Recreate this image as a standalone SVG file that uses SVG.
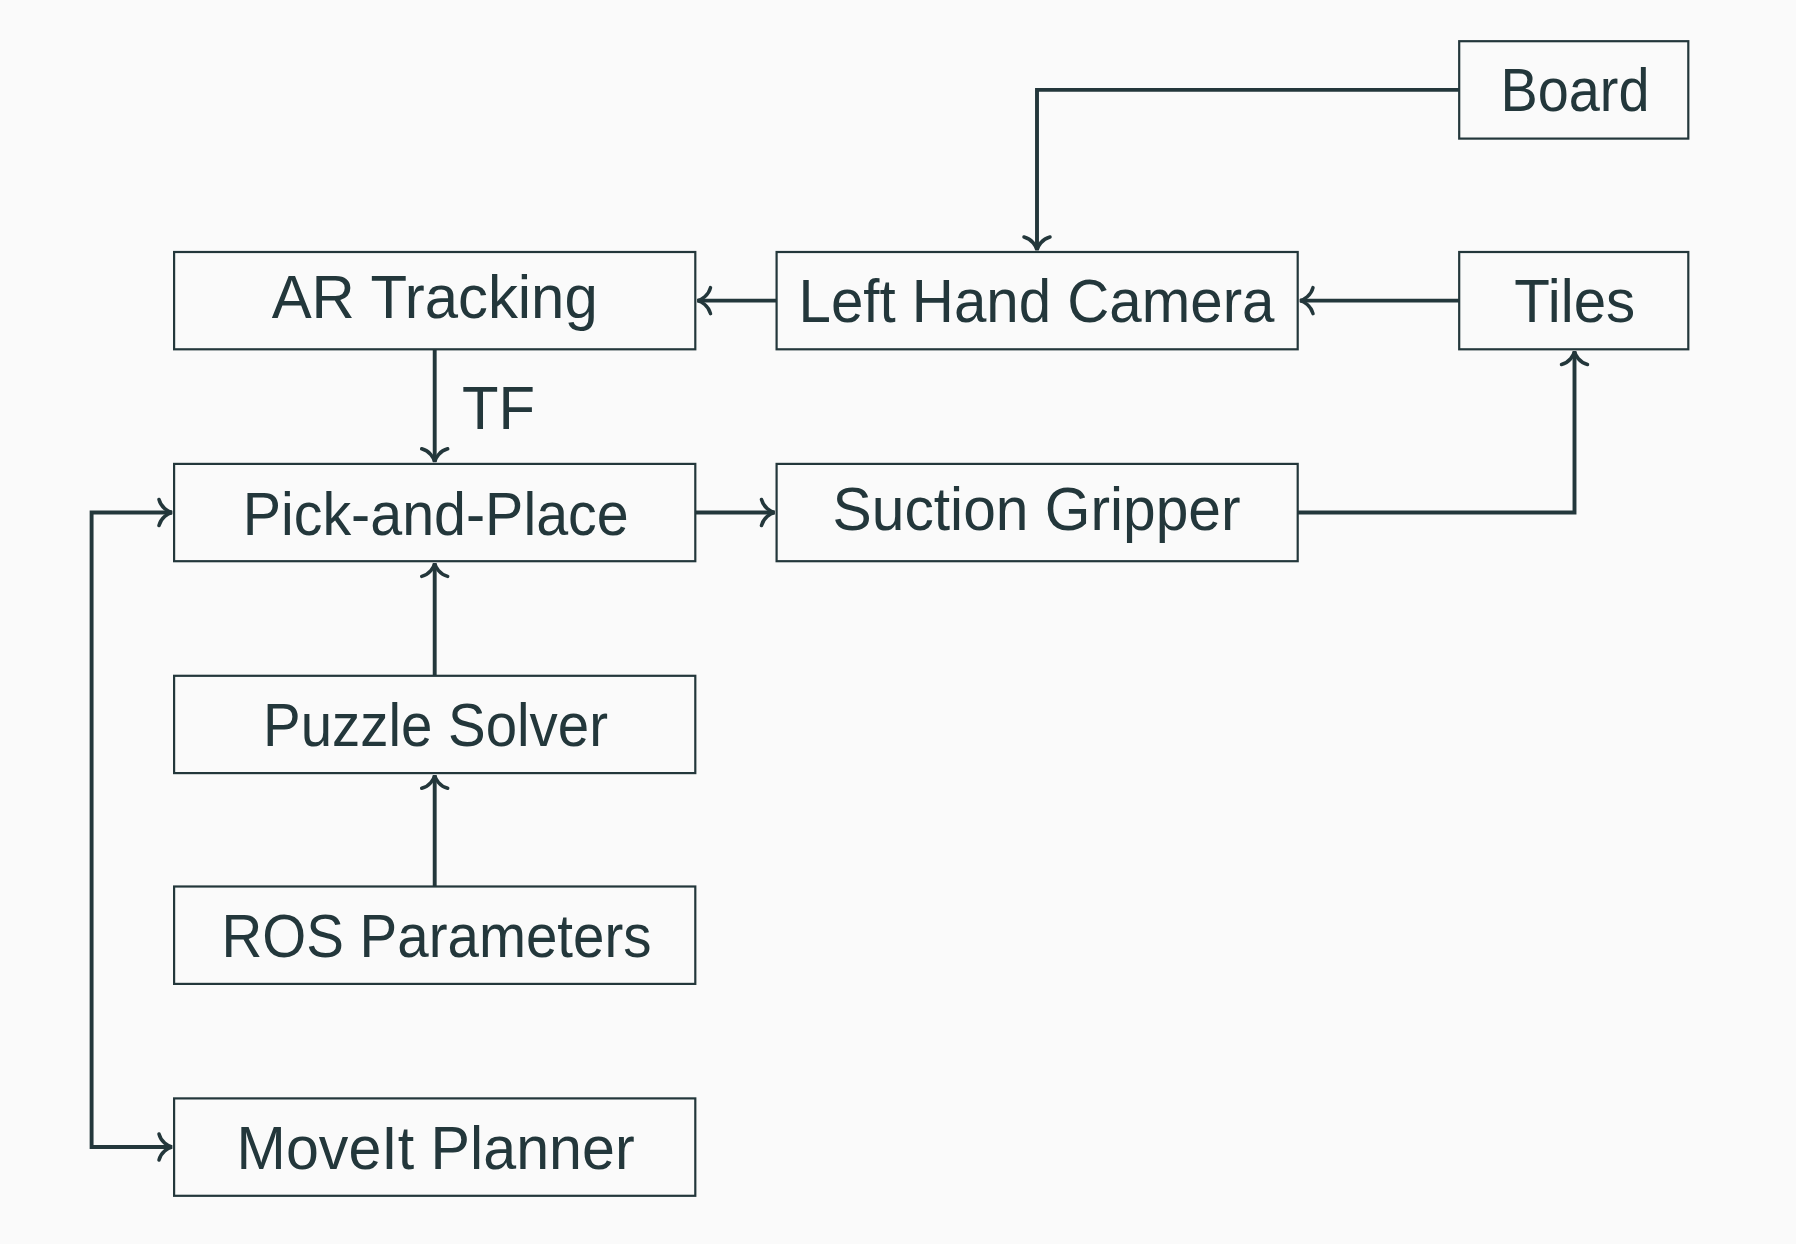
<svg xmlns="http://www.w3.org/2000/svg" width="1796" height="1244" viewBox="0 0 1796 1244">
<defs>
<style>
.box{fill:none;stroke:#23373b;stroke-width:2.2}
.lbl{font-family:"Liberation Sans",Arial,sans-serif;font-size:62px;fill:#23373b;text-anchor:middle}
.con{fill:none;stroke:#23373b;stroke-width:3.9;stroke-linejoin:miter}
</style>
<marker id="arr" markerUnits="userSpaceOnUse" orient="auto-start-reverse" refX="0" refY="0" markerWidth="30" markerHeight="30" viewBox="-15 -15 30 30" overflow="visible">
<path d="M-13,-13 C-11,-5 -4,-1 0,0 C-4,1 -11,5 -13,13" fill="none" stroke="#23373b" stroke-width="3.5" stroke-linecap="round"/>
</marker>
</defs>
<rect x="0" y="0" width="1796" height="1244" fill="#fafafa"/>
<g id="connectors">
<path class="con" d="M1459.2,89.9 H1037 V250" marker-end="url(#arr)"/>
<path class="con" d="M1459.2,300.6 H1300" marker-end="url(#arr)"/>
<path class="con" d="M776.6,300.6 H697.5" marker-end="url(#arr)"/>
<path class="con" d="M434.7,349.3 V461.8" marker-end="url(#arr)"/>
<path class="con" d="M695.3,512.5 H774.5" marker-end="url(#arr)"/>
<path class="con" d="M1297.7,512.5 H1574.5 V351.5" marker-end="url(#arr)"/>
<path class="con" d="M434.7,675.8 V563.4" marker-end="url(#arr)"/>
<path class="con" d="M434.7,886.5 V775.3" marker-end="url(#arr)"/>
<path class="con" d="M172,512.5 H91.6 V1147 H172" marker-start="url(#arr)" marker-end="url(#arr)"/>
<text class="lbl" x="462" y="429" style="text-anchor:start" textLength="73" lengthAdjust="spacingAndGlyphs">TF</text>
</g>
<g id="board"><rect class="box" x="1459.2" y="41.2" width="229.1" height="97.4"/><text class="lbl" x="1575" y="111.4" textLength="149" lengthAdjust="spacingAndGlyphs">Board</text></g>
<g id="ar-tracking"><rect class="box" x="174.1" y="252" width="521.2" height="97.3"/><text class="lbl" x="434.7" y="317.7" textLength="326" lengthAdjust="spacingAndGlyphs">AR Tracking</text></g>
<g id="left-hand-camera"><rect class="box" x="776.6" y="252" width="521.1" height="97.3"/><text class="lbl" x="1036.5" y="322" textLength="476" lengthAdjust="spacingAndGlyphs">Left Hand Camera</text></g>
<g id="tiles"><rect class="box" x="1459.2" y="252" width="229.1" height="97.3"/><text class="lbl" x="1574.8" y="322" textLength="121" lengthAdjust="spacingAndGlyphs">Tiles</text></g>
<g id="pick-and-place"><rect class="box" x="174.1" y="463.9" width="521.2" height="97.3"/><text class="lbl" x="435.7" y="534.5" textLength="386" lengthAdjust="spacingAndGlyphs">Pick-and-Place</text></g>
<g id="suction-gripper"><rect class="box" x="776.6" y="463.9" width="521.1" height="97.3"/><text class="lbl" x="1036.6" y="529.5" textLength="408" lengthAdjust="spacingAndGlyphs">Suction Gripper</text></g>
<g id="puzzle-solver"><rect class="box" x="174.1" y="675.8" width="521.2" height="97.3"/><text class="lbl" x="435.5" y="746" textLength="345" lengthAdjust="spacingAndGlyphs">Puzzle Solver</text></g>
<g id="ros-parameters"><rect class="box" x="174.1" y="886.5" width="521.2" height="97.4"/><text class="lbl" x="436.5" y="957" textLength="430" lengthAdjust="spacingAndGlyphs">ROS Parameters</text></g>
<g id="moveit-planner"><rect class="box" x="174.1" y="1098.4" width="521.2" height="97.4"/><text class="lbl" x="435.6" y="1169" textLength="398" lengthAdjust="spacingAndGlyphs">MoveIt Planner</text></g>
</svg>
